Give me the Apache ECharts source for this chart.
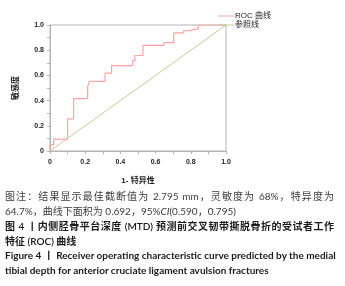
<!DOCTYPE html>
<html>
<head>
<meta charset="utf-8">
<script src="https://cdn.jsdelivr.net/npm/echarts@6/dist/echarts.min.js"></script>
<style>
  html, body { margin: 0; padding: 0; background: #fff; }
  #wrap { position: relative; width: 345px; height: 286px; overflow: hidden; }
  #chart { position: absolute; left: 0; top: 0; width: 345px; height: 190px; }
  .cap { position: absolute; left: 5px; width: 329px; height: 15px; line-height: 15px;
         font-family: Lato, "Noto Sans CJK SC", sans-serif; white-space: nowrap;
         text-align: justify; text-align-last: justify; }
  .note { font-size: 10px; color: #3a3a3a; }
  .title { font-size: 10px; color: #1a1a1a; font-weight: 600; }
  .en { font-size: 10px; color: #1a1a1a; font-weight: 700; }
  .last { text-align-last: left; }
</style>
</head>
<body>
<div id="wrap">
  <div id="chart"></div>
  <div class="cap note" style="top:189px">图注：结果显示最佳截断值为 2.795 mm，灵敏度为 68%，特异度为</div>
  <div class="cap note last" style="top:204px">64.7%，曲线下面积为 0.692，95%<i>CI</i>(0.590，0.795)</div>
  <div class="cap title" style="top:219px">图 4 丨内侧胫骨平台深度 (MTD) 预测前交叉韧带撕脱骨折的受试者工作</div>
  <div class="cap title last" style="top:234px">特征 (ROC) 曲线</div>
  <div class="cap en" style="top:248px">Figure 4 丨 Receiver operating characteristic curve predicted by the medial</div>
  <div class="cap en last" style="top:263px">tibial depth for anterior cruciate ligament avulsion fractures</div>
</div>
<script>
// ROC corner points (1-specificity, sensitivity)
const rocX = [0, 0, 0.021, 0.1, 0.134, 0.214, 0.225, 0.313, 0.35, 0.47, 0.483, 0.528, 0.646, 0.703, 0.76, 0.79, 0.843, 1];
const rocY = [0, 0.05, 0.094, 0.255, 0.416, 0.514, 0.553, 0.618, 0.678, 0.717, 0.758, 0.839, 0.86, 0.938, 0.956, 0.971, 1, 1];
const refX = [0, 1];
const refY = [0, 1];
const seriesNames = ['ROC 曲线', '参照线'];

const chart = echarts.init(document.getElementById('chart'));

const tickLabel = v => {
  const k = Math.round(v * 10);
  if (k % 2) return '';
  return k === 0 ? '0' : (k / 10).toFixed(1);
};

const axisCommon = {
  type: 'value',
  min: 0,
  max: 1,
  interval: 0.1,
  splitLine: { show: false },
  axisLine: { lineStyle: { color: '#b4b4b4', width: 1 } },
  axisTick: { length: 3, lineStyle: { color: '#b4b4b4' } },
  axisLabel: { formatter: tickLabel, fontSize: 7, fontWeight: 'bold', color: '#222',
               fontFamily: '"Liberation Sans", sans-serif' },
  nameTextStyle: { fontSize: 8, color: '#222', fontWeight: 'bold',
                   fontFamily: '"Liberation Sans", "Noto Sans CJK SC", sans-serif' }
};

chart.setOption({
  animation: false,
  grid: { left: 50, top: 25, width: 176, height: 128, show: true,
          borderColor: '#b4b4b4', borderWidth: 1 },
  legend: {
    orient: 'vertical', left: 213, top: 7, itemWidth: 16, itemHeight: 8, itemGap: 1,
    icon: 'path://M0,0L16,0L16,1L0,1Z',
    data: seriesNames,
    textStyle: { fontSize: 8, color: '#222', padding: [0, 0, 0, -4],
                 fontFamily: '"Liberation Sans", "Noto Sans CJK SC", sans-serif' }
  },
  xAxis: Object.assign({}, axisCommon, {
    name: '1- 特异性', nameLocation: 'middle', nameGap: 26,
    axisLabel: Object.assign({}, axisCommon.axisLabel, { margin: 8 })
  }),
  yAxis: Object.assign({}, axisCommon, {
    name: '敏感度', nameLocation: 'middle', nameGap: 30, nameRotate: 90,
    axisLabel: Object.assign({}, axisCommon.axisLabel, { margin: 6 })
  }),
  series: [
    {
      name: seriesNames[0], type: 'line', step: 'end', symbol: 'none',
      lineStyle: { color: '#ffa3a3', width: 1.2 }, itemStyle: { color: '#ffa3a3' },
      data: rocX.map((x, i) => [x, rocY[i]]), z: 3
    },
    {
      name: seriesNames[1], type: 'line', symbol: 'none',
      lineStyle: { color: '#c9c995', width: 1 }, itemStyle: { color: '#c9c995' },
      data: refX.map((x, i) => [x, refY[i]]), z: 2
    }
  ]
});
</script>
</body>
</html>
